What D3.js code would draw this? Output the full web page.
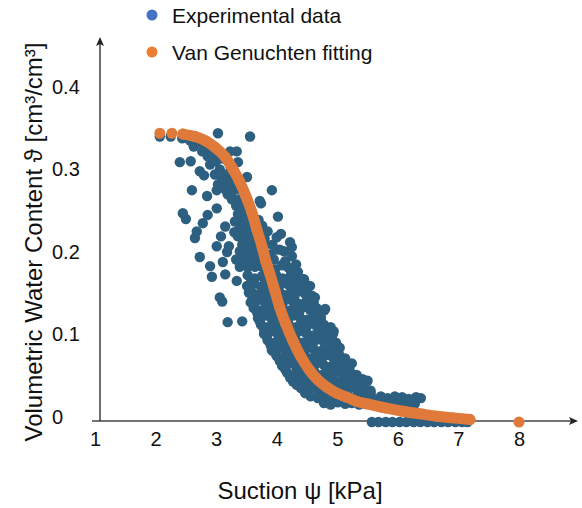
<!DOCTYPE html>
<html>
<head>
<meta charset="utf-8">
<script src="https://cdn.jsdelivr.net/npm/d3@7"></script>
<style>
  body { margin: 0; background: #fff; }
  svg text { font-family: "Liberation Sans", Arial, Helvetica, sans-serif; fill: #111; }
</style>
</head>
<body>
<div id="plot"></div>
<script>
    // Van Genuchten fitting (suction kPa, water content)
    const fitX = [2.07, 2.27, 2.45, 2.65, 2.82, 2.98, 3.15, 3.28, 3.39, 3.49, 3.59, 3.67, 3.76, 3.82, 3.89, 3.97, 4.05,
                  4.15, 4.27, 4.40, 4.55, 4.68, 4.83, 4.99, 5.16, 5.32, 5.49, 5.79, 6.08, 6.36, 6.64, 6.91, 7.19, 8.00];
    const fitY = [0.350, 0.350, 0.349, 0.346, 0.341, 0.333, 0.321, 0.306, 0.291, 0.274, 0.254, 0.234, 0.212, 0.195, 0.179, 0.159, 0.139,
                  0.119, 0.098, 0.079, 0.062, 0.051, 0.042, 0.035, 0.030, 0.025, 0.022, 0.017, 0.013, 0.010, 0.007, 0.005, 0.003, 0.000];

    // Experimental data, split by region of the cloud
    const topX = [2.07, 2.25, 2.44, 2.57, 2.68, 2.80, 2.90, 2.63, 2.77, 2.86, 2.95, 3.00, 2.90, 3.06, 2.98, 3.10, 3.16, 3.03, 3.15, 3.23, 3.19, 3.28,
                  3.03, 3.56, 3.23, 3.34, 3.36, 3.26, 3.51, 2.40, 2.58, 2.73, 2.80, 2.60, 2.85, 3.01, 3.19,
                  3.23, 3.29, 3.33, 3.13, 3.23];
    const topY = [0.346, 0.346, 0.344, 0.341, 0.339, 0.335, 0.331, 0.334, 0.328, 0.322, 0.324, 0.316, 0.312, 0.306, 0.300, 0.294, 0.299, 0.288, 0.282, 0.288, 0.276, 0.270,
                  0.350, 0.346, 0.328, 0.328, 0.315, 0.310, 0.297, 0.315, 0.316, 0.304, 0.299, 0.281, 0.274, 0.281, 0.285,
                  0.304, 0.294, 0.282, 0.319, 0.312];

    const leftX = [2.45, 2.50, 2.86, 2.78, 3.01, 2.68, 2.65, 2.73, 3.01, 3.08, 3.15, 3.18, 3.21, 2.90, 3.11, 2.93, 3.15, 3.34, 3.06, 3.10, 3.19, 3.43];
    const leftY = [0.253, 0.246, 0.251, 0.241, 0.259, 0.231, 0.223, 0.200, 0.213, 0.225, 0.237, 0.206, 0.213, 0.189, 0.194, 0.176, 0.179, 0.171, 0.151, 0.146, 0.121, 0.122];

    const rightX = [3.92, 3.72, 3.76, 4.02, 4.07, 4.00, 4.22, 4.25, 4.25, 4.05, 4.35, 4.14, 3.89, 3.81, 3.85, 4.18, 3.97, 3.99, 4.12, 4.32,
                    3.74, 3.70, 3.80, 3.93, 3.95, 4.08, 4.22];
    const rightY = [0.281, 0.268, 0.238, 0.249, 0.228, 0.224, 0.218, 0.212, 0.201, 0.209, 0.182, 0.195, 0.203, 0.215, 0.231, 0.188, 0.185, 0.209, 0.207, 0.191,
                    0.265, 0.245, 0.222, 0.215, 0.197, 0.190, 0.185];

    const bandX = [3.26, 3.39, 3.33, 3.44, 3.36, 3.49, 3.31, 3.43, 3.54, 3.39, 3.51, 3.36, 3.48, 3.59,
                   3.43, 3.54, 3.64, 3.39, 3.51, 3.62, 3.33, 3.46, 3.57, 3.69, 3.39, 3.52, 3.64, 3.76,
                   3.20, 3.27, 3.35, 3.40, 3.46, 3.50, 3.56, 3.60, 3.66, 3.70, 3.45, 3.30];
    const bandY = [0.270, 0.270, 0.262, 0.262, 0.252, 0.252, 0.243, 0.243, 0.243, 0.234, 0.234, 0.225, 0.225, 0.225,
                   0.215, 0.215, 0.215, 0.207, 0.207, 0.207, 0.197, 0.197, 0.197, 0.197, 0.188, 0.188, 0.188, 0.188,
                   0.290, 0.280, 0.265, 0.255, 0.240, 0.230, 0.220, 0.210, 0.200, 0.190, 0.205, 0.230];

    const lowX = [3.52, 3.64, 3.76, 3.87, 3.99, 4.10, 4.22, 4.33, 4.45,
                  3.51, 3.62, 3.74, 3.85, 3.97, 4.09, 4.20, 4.32, 4.43, 4.55,
                  3.54, 3.66, 3.77, 3.89, 4.00, 4.12, 4.23, 4.35, 4.47, 4.58,
                  3.57, 3.69, 3.81, 3.92, 4.04, 4.15, 4.27, 4.38, 4.50, 4.61,
                  3.62, 3.74, 3.85, 3.97, 4.09, 4.20, 4.32, 4.43, 4.55, 4.66, 4.78,
                  3.69, 3.81, 3.92, 4.04, 4.15, 4.27, 4.38, 4.50, 4.61, 4.73,
                  3.74, 3.85, 3.97, 4.09, 4.20, 4.32, 4.43, 4.55, 4.66, 4.78, 4.89,
                  3.79, 3.90, 4.02, 4.14, 4.25, 4.37, 4.48, 4.60, 4.71, 4.83, 4.94,
                  3.85, 3.97, 4.09, 4.20, 4.32, 4.43, 4.55, 4.66, 4.78, 4.89, 4.98,
                  3.92, 4.04, 4.15, 4.27, 4.38, 4.50, 4.61, 4.73, 4.84, 4.96, 5.04,
                  4.00, 4.12, 4.23, 4.35, 4.47, 4.58, 4.70, 4.81, 4.93, 5.04, 5.13,
                  4.09, 4.20, 4.32, 4.43, 4.55, 4.66, 4.78, 4.89, 5.01, 5.13, 5.24,
                  4.17, 4.28, 4.40, 4.51, 4.63, 4.75, 4.86, 4.98, 5.09, 5.21, 5.32,
                  4.27, 4.38, 4.50, 4.61, 4.73, 4.84, 4.96, 5.08, 5.19, 5.31, 5.42, 5.50,
                  4.40, 4.51, 4.63, 4.75, 4.86, 4.98, 5.09, 5.21, 5.32, 5.44, 5.55];
    const lowY = [0.178, 0.174, 0.177, 0.175, 0.178, 0.174, 0.176, 0.179, 0.173,
                  0.165, 0.168, 0.164, 0.167, 0.165, 0.168, 0.166, 0.163, 0.167, 0.165,
                  0.157, 0.154, 0.158, 0.155, 0.157, 0.154, 0.156, 0.158, 0.155, 0.153,
                  0.145, 0.148, 0.144, 0.147, 0.145, 0.148, 0.146, 0.143, 0.147, 0.145,
                  0.138, 0.135, 0.139, 0.136, 0.138, 0.135, 0.137, 0.139, 0.136, 0.138, 0.135,
                  0.126, 0.129, 0.125, 0.128, 0.126, 0.129, 0.127, 0.124, 0.128, 0.126,
                  0.118, 0.115, 0.119, 0.116, 0.118, 0.115, 0.117, 0.119, 0.116, 0.118, 0.115,
                  0.107, 0.110, 0.106, 0.109, 0.107, 0.110, 0.108, 0.105, 0.109, 0.107, 0.110,
                  0.099, 0.096, 0.100, 0.097, 0.099, 0.096, 0.098, 0.100, 0.097, 0.099, 0.096,
                  0.087, 0.090, 0.086, 0.089, 0.087, 0.090, 0.088, 0.086, 0.089, 0.087, 0.090,
                  0.080, 0.077, 0.081, 0.078, 0.080, 0.077, 0.079, 0.081, 0.078, 0.080, 0.077,
                  0.068, 0.071, 0.067, 0.070, 0.068, 0.071, 0.069, 0.067, 0.070, 0.068, 0.071,
                  0.060, 0.057, 0.061, 0.058, 0.060, 0.057, 0.059, 0.061, 0.058, 0.060, 0.057,
                  0.049, 0.052, 0.048, 0.051, 0.049, 0.052, 0.050, 0.048, 0.051, 0.049, 0.052, 0.050,
                  0.041, 0.038, 0.042, 0.039, 0.041, 0.038, 0.040, 0.042, 0.039, 0.041, 0.038];

    // in-between points that close the gaps of the lower cloud
    const fillX = [3.58, 3.81, 4.04, 4.27, 4.45,
                   3.57, 3.80, 4.03, 4.26, 4.49,
                   3.60, 3.83, 4.06, 4.29, 4.52,
                   3.63, 3.86, 4.09, 4.32, 4.55,
                   3.68, 3.91, 4.14, 4.37, 4.60, 4.72,
                   3.72, 3.95, 4.18, 4.41, 4.64,
                   3.79, 4.02, 4.25, 4.48, 4.71, 4.85,
                   3.84, 4.07, 4.30, 4.53, 4.76, 4.90,
                   3.90, 4.13, 4.36, 4.59, 4.82, 4.97,
                   3.98, 4.21, 4.44, 4.67, 4.90, 5.02,
                   4.05, 4.28, 4.51, 4.74, 4.97, 5.10,
                   4.14, 4.37, 4.60, 4.83, 5.06, 5.20,
                   4.22, 4.45, 4.68, 4.91, 5.14, 5.30,
                   4.33, 4.56, 4.79, 5.02, 5.25, 5.40,
                   4.47, 4.70, 4.93, 5.16, 5.39, 5.55];
    const fillY = [0.171, 0.171, 0.171, 0.171, 0.171,
                   0.161, 0.161, 0.161, 0.161, 0.161,
                   0.151, 0.151, 0.151, 0.151, 0.151,
                   0.141, 0.141, 0.141, 0.141, 0.141,
                   0.132, 0.132, 0.132, 0.132, 0.132, 0.132,
                   0.122, 0.122, 0.122, 0.122, 0.122,
                   0.112, 0.112, 0.112, 0.112, 0.112, 0.112,
                   0.103, 0.103, 0.103, 0.103, 0.103, 0.103,
                   0.093, 0.093, 0.093, 0.093, 0.093, 0.093,
                   0.083, 0.083, 0.083, 0.083, 0.083, 0.083,
                   0.074, 0.074, 0.074, 0.074, 0.074, 0.074,
                   0.064, 0.064, 0.064, 0.064, 0.064, 0.064,
                   0.054, 0.054, 0.054, 0.054, 0.054, 0.054,
                   0.045, 0.045, 0.045, 0.045, 0.045, 0.045,
                   0.035, 0.035, 0.035, 0.035, 0.035, 0.035];

    const edgeX = [4.43, 4.63, 4.80, 4.93, 4.91, 4.99, 5.17, 5.09, 5.37, 5.54];
    const edgeY = [0.173, 0.151, 0.137, 0.107, 0.092, 0.070, 0.068, 0.058, 0.050, 0.038];

    const tailX = [4.56, 4.68, 4.80, 4.91, 5.03, 5.14, 5.26, 5.37, 5.49, 5.60, 5.72, 5.83, 5.95, 6.07, 6.18, 6.30, 6.38,
                   4.78, 4.89, 5.01, 5.13, 5.24, 5.36, 5.47, 5.59, 5.70, 5.82, 5.93, 6.05, 6.17, 6.28];
    const tailY = [0.031, 0.029, 0.032, 0.030, 0.028, 0.031, 0.029, 0.032, 0.030, 0.028, 0.031, 0.029, 0.031, 0.030, 0.028, 0.030, 0.029,
                   0.023, 0.021, 0.024, 0.022, 0.023, 0.021, 0.022, 0.024, 0.022, 0.021, 0.023, 0.022, 0.021, 0.022];

    const baseX = [5.57, 5.68, 5.80, 5.91, 6.03, 6.14, 6.26, 6.37, 6.49, 6.60, 6.72, 6.83, 6.95, 7.06, 7.15];
    const baseY = [0, 0, 0, 0, 0, 0, 0, 0, 0, 0, 0, 0, 0, 0, 0];

    const xTickValues = [1, 2, 3, 4, 5, 6, 7, 8];
    const yTickValues = [0, 0.1, 0.2, 0.3, 0.4];
    const legendLabels = ['Experimental data', 'Van Genuchten fitting'];
    const legendColors = ['#4472c4', '#ed7d31'];

    const blue = '#2d5f80';
    const orange = '#e07a3b';

    // Set up the SVG container
    const svgWidth = 582;
    const svgHeight = 508;

    const svg = d3.select('#plot')
        .append('svg')
        .attr('width', svgWidth)
        .attr('height', svgHeight);

    // Scales
    const xScale = d3.scaleLinear().domain([1, 8]).range([95, 519]);
    const yScale = d3.scaleLinear().domain([0, 0.4]).range([422, 92]);

    // Axis lines with arrow heads
    const axisY = yScale(0) - 1;
    svg.append('line')
        .attr('x1', 92).attr('x2', 572)
        .attr('y1', axisY).attr('y2', axisY)
        .attr('stroke', '#444').attr('stroke-width', 1.3);
    svg.append('path')
        .attr('d', `M578,${axisY} L569,${axisY - 4} L571,${axisY} L569,${axisY + 4} Z`)
        .attr('fill', '#222');

    svg.append('line')
        .attr('x1', 100).attr('x2', 100)
        .attr('y1', 44).attr('y2', axisY)
        .attr('stroke', '#222').attr('stroke-width', 1.3);
    svg.append('path')
        .attr('d', 'M100,37 L96,46 L100,44 L104,46 Z')
        .attr('fill', '#222');

    // Tick labels (no tick marks)
    const xAxis = svg.append('g')
        .attr('class', 'x-axis')
        .attr('transform', `translate(0, ${axisY})`)
        .call(d3.axisBottom(xScale).tickValues(xTickValues).tickSize(0).tickPadding(11).tickFormat(d3.format('d')));
    xAxis.select('.domain').remove();
    xAxis.selectAll('text').style('font-size', '20px');

    const yAxis = svg.append('g')
        .attr('class', 'y-axis')
        .attr('transform', 'translate(100, 0)')
        .call(d3.axisLeft(yScale).tickValues(yTickValues).tickSize(0)
            .tickFormat(d => d === 0 ? '0' : d3.format('.1f')(d)));
    yAxis.select('.domain').remove();
    yAxis.selectAll('text')
        .attr('x', -48)
        .attr('y', -5)
        .style('font-size', '20px')
        .style('text-anchor', 'start');

    // Experimental data points
    const expData = [].concat(
        d3.zip(topX, topY), d3.zip(leftX, leftY), d3.zip(rightX, rightY), d3.zip(bandX, bandY),
        d3.zip(lowX, lowY), d3.zip(fillX, fillY), d3.zip(edgeX, edgeY), d3.zip(tailX, tailY), d3.zip(baseX, baseY)
    );

    svg.append('g').selectAll('circle')
        .data(expData)
        .enter()
        .append('circle')
        .attr('cx', d => xScale(d[0]))
        .attr('cy', d => yScale(d[1]))
        .attr('r', 5.2)
        .attr('fill', blue);

    // Fitted curve: dense dots drawn as a thick line plus the points themselves
    const fitData = d3.zip(fitX, fitY);
    const line = d3.line()
        .x(d => xScale(d[0]))
        .y(d => yScale(d[1]))
        .curve(d3.curveMonotoneX);

    svg.append('path')
        .datum(fitData.slice(2, 33))
        .attr('d', line)
        .attr('fill', 'none')
        .attr('stroke', orange)
        .attr('stroke-width', 11)
        .attr('stroke-linecap', 'round');

    svg.append('g').selectAll('circle')
        .data(fitData)
        .enter()
        .append('circle')
        .attr('cx', d => xScale(d[0]))
        .attr('cy', d => yScale(d[1]))
        .attr('r', 5.5)
        .attr('fill', orange);

    // Axis titles
    svg.append('text')
        .attr('transform', 'translate(300, 499)')
        .style('text-anchor', 'middle')
        .style('font-size', '24px')
        .text('Suction ψ [kPa]');

    svg.append('text')
        .attr('transform', 'translate(42, 242) rotate(-90)')
        .style('text-anchor', 'middle')
        .style('font-size', '24px')
        .text('Volumetric Water Content ϑ [cm³/cm³]');

    // Legend
    const legend = svg.append('g').selectAll('g')
        .data(legendLabels)
        .enter()
        .append('g')
        .attr('transform', (d, i) => `translate(152, ${15 + i * 37})`);

    legend.append('circle')
        .attr('r', 5.5)
        .attr('fill', (d, i) => legendColors[i]);

    legend.append('text')
        .attr('x', 20)
        .attr('y', 8)
        .style('font-size', '21px')
        .text(d => d);
</script>
</body>
</html>
